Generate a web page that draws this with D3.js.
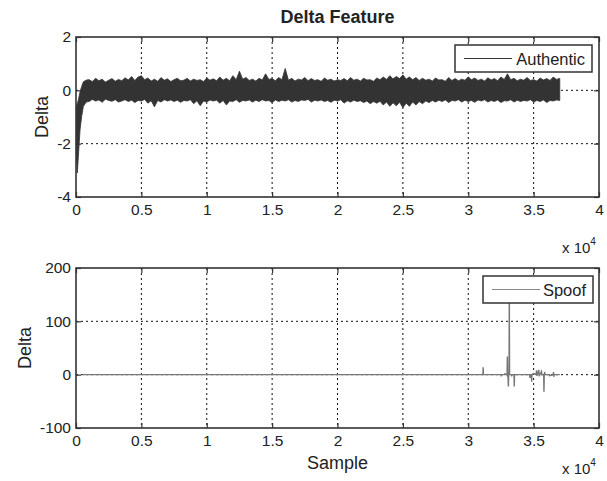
<!DOCTYPE html>
<html>
<head>
<meta charset="utf-8">
<script src="https://cdn.jsdelivr.net/npm/d3@7"></script>
<style>
  body { margin: 0; background: #fff; }
  text { font-family: "Liberation Sans", Arial, Helvetica, sans-serif; fill: #222; }
</style>
</head>
<body>
<script>
// ---- data (sample index in units of 1e4) ----
// authentic signal is very dense noise, so it is kept as an upper/lower envelope
const authX = [0.002, 0.01, 0.018, 0.031, 0.043, 0.056, 0.07, 0.082,
  0.100, 0.125, 0.150, 0.175, 0.200, 0.225, 0.250, 0.275, 0.300, 0.325,
  0.350, 0.375, 0.400, 0.425, 0.450, 0.475, 0.500, 0.525, 0.550, 0.575,
  0.600, 0.625, 0.650, 0.675, 0.700, 0.725, 0.750, 0.775, 0.800, 0.825,
  0.850, 0.875, 0.900, 0.925, 0.950, 0.975, 1.000, 1.025, 1.050, 1.075,
  1.100, 1.125, 1.150, 1.175, 1.200, 1.225, 1.250, 1.275, 1.300, 1.325,
  1.350, 1.375, 1.400, 1.425, 1.450, 1.475, 1.500, 1.525, 1.550, 1.575,
  1.600, 1.625, 1.650, 1.675, 1.700, 1.725, 1.750, 1.775, 1.800, 1.825,
  1.850, 1.875, 1.900, 1.925, 1.950, 1.975, 2.000, 2.025, 2.050, 2.075,
  2.100, 2.125, 2.150, 2.175, 2.200, 2.225, 2.250, 2.275, 2.300, 2.325,
  2.350, 2.375, 2.400, 2.425, 2.450, 2.475, 2.500, 2.525, 2.550, 2.575,
  2.600, 2.625, 2.650, 2.675, 2.700, 2.725, 2.750, 2.775, 2.800, 2.825,
  2.850, 2.875, 2.900, 2.925, 2.950, 2.975, 3.000, 3.025, 3.050, 3.075,
  3.100, 3.125, 3.150, 3.175, 3.200, 3.225, 3.250, 3.275, 3.300, 3.325,
  3.350, 3.375, 3.400, 3.425, 3.450, 3.475, 3.500, 3.525, 3.550, 3.575,
  3.600, 3.625, 3.650, 3.675, 3.700];
const authUpper = [-0.6, -0.5, -0.36, -0.05, 0.14, 0.32, 0.36, 0.39,
  0.40, 0.33, 0.45, 0.36, 0.42, 0.31, 0.38, 0.44, 0.34, 0.41,
  0.36, 0.47, 0.39, 0.52, 0.37, 0.50, 0.55, 0.40, 0.46, 0.35,
  0.42, 0.34, 0.48, 0.38, 0.43, 0.33, 0.40, 0.45, 0.36, 0.38,
  0.45, 0.35, 0.42, 0.37, 0.40, 0.33, 0.46, 0.38, 0.43, 0.36,
  0.50, 0.38, 0.45, 0.36, 0.55, 0.40, 0.72, 0.42, 0.48, 0.37,
  0.42, 0.35, 0.45, 0.39, 0.62, 0.41, 0.44, 0.36, 0.48, 0.40,
  0.82, 0.38, 0.45, 0.35, 0.42, 0.39, 0.48, 0.36, 0.44, 0.37,
  0.40, 0.34, 0.46, 0.38, 0.42, 0.35, 0.40, 0.37, 0.44, 0.36,
  0.48, 0.38, 0.42, 0.35, 0.45, 0.39, 0.40, 0.34, 0.46, 0.40,
  0.50, 0.41, 0.55, 0.43, 0.52, 0.44, 0.58, 0.42, 0.50, 0.40,
  0.48, 0.37, 0.45, 0.38, 0.42, 0.35, 0.46, 0.39, 0.40, 0.34,
  0.48, 0.37, 0.44, 0.36, 0.42, 0.38, 0.50, 0.40, 0.46, 0.37,
  0.42, 0.35, 0.47, 0.39, 0.44, 0.36, 0.50, 0.41, 0.62, 0.40,
  0.45, 0.36, 0.42, 0.38, 0.48, 0.37, 0.40, 0.35, 0.46, 0.39,
  0.44, 0.37, 0.50, 0.41, 0.45];
const authLower = [-2.2, -3.1, -2.49, -1.48, -0.99, -0.61, -0.5, -0.43,
  -0.42, -0.34, -0.40, -0.36, -0.45, -0.33, -0.38, -0.41, -0.35, -0.44,
  -0.40, -0.35, -0.42, -0.37, -0.46, -0.38, -0.40, -0.34, -0.48, -0.39,
  -0.62, -0.38, -0.44, -0.35, -0.40, -0.36, -0.42, -0.37, -0.45, -0.38,
  -0.40, -0.35, -0.50, -0.39, -0.58, -0.40, -0.44, -0.36, -0.40, -0.37,
  -0.48, -0.38, -0.55, -0.40, -0.42, -0.35, -0.45, -0.38, -0.40, -0.36,
  -0.44, -0.37, -0.42, -0.35, -0.40, -0.38, -0.46, -0.36, -0.42, -0.37,
  -0.40, -0.35, -0.44, -0.38, -0.42, -0.36, -0.38, -0.34, -0.44, -0.37,
  -0.40, -0.36, -0.42, -0.38, -0.45, -0.37, -0.40, -0.35, -0.48, -0.39,
  -0.44, -0.37, -0.42, -0.39, -0.46, -0.40, -0.50, -0.42, -0.48, -0.41,
  -0.55, -0.44, -0.60, -0.47, -0.58, -0.45, -0.65, -0.48, -0.60, -0.44,
  -0.55, -0.42, -0.50, -0.40, -0.46, -0.38, -0.44, -0.37, -0.42, -0.36,
  -0.46, -0.38, -0.40, -0.35, -0.44, -0.37, -0.42, -0.38, -0.45, -0.36,
  -0.40, -0.35, -0.44, -0.38, -0.42, -0.36, -0.46, -0.39, -0.40, -0.35,
  -0.44, -0.37, -0.42, -0.38, -0.40, -0.35, -0.44, -0.38, -0.42, -0.36,
  -0.46, -0.38, -0.40, -0.36, -0.38];

// spoof signal: flat near zero, thin spikes after 3.1e4
const spoofX = [0.05, 3.10, 3.112, 3.114, 3.116, 3.25, 3.252, 3.254, 3.28, 3.282, 3.284,
  3.297, 3.299, 3.301, 3.303, 3.307, 3.309, 3.312, 3.314, 3.316, 3.33, 3.332, 3.334,
  3.35, 3.352, 3.354, 3.47, 3.472, 3.474, 3.483, 3.485, 3.487, 3.50, 3.52, 3.522, 3.524,
  3.54, 3.542, 3.56, 3.562, 3.577, 3.579, 3.581, 3.585, 3.587, 3.62, 3.622, 3.65, 3.652,
  3.654, 3.656, 3.70];
const spoofY = [0, 0, 0, 14, 0, 0, -3, 0, 0, 3, 0,
  0, 34, -4, 4, -22, 0, 0, 160, 0, 0, -3, 0,
  0, -22, 0, 0, -6, 0, 0, -13, 0, 2, 0, 8, -2,
  9, -3, 6, 0, 0, -32, 0, 5, 0, 0, -2, 0, 5,
  -4, 0, 0];

const xTicks = [0, 0.5, 1, 1.5, 2, 2.5, 3, 3.5, 4];
const topYTicks = [-4, -2, 0, 2];
const botYTicks = [-100, 0, 100, 200];

const W = 607, H = 481;
const left = 76, right = 599;

let svg = d3.select('body').append('svg')
  .attr('width', W)
  .attr('height', H)
  .style('background', '#fff');

let x = d3.scaleLinear().domain([0, 4]).range([left, right]);

// dotted grid + clip rect for one subplot
function drawGrid(yScale, yTicks, top, bottom, id) {
  let g = svg.append('g');

  g.selectAll('.vgrid')
    .data(xTicks.slice(1, -1))
    .enter().append('line')
      .attr('x1', d => x(d)).attr('x2', d => x(d))
      .attr('y1', top).attr('y2', bottom)
      .attr('stroke', '#111')
      .attr('stroke-width', 1)
      .attr('stroke-dasharray', '2,3');
  g.selectAll('.hgrid')
    .data(yTicks.slice(1, -1))
    .enter().append('line')
      .attr('x1', left).attr('x2', right)
      .attr('y1', d => yScale(d)).attr('y2', d => yScale(d))
      .attr('stroke', '#111')
      .attr('stroke-width', 1)
      .attr('stroke-dasharray', '2,3');

  svg.append('clipPath').attr('id', id)
    .append('rect')
      .attr('x', left).attr('y', top)
      .attr('width', right - left).attr('height', bottom - top);
}

// box, inward ticks on all four sides, tick labels
function drawFrame(yScale, yTicks, top, bottom) {
  let g = svg.append('g');
  let fmt = d => String(d);

  g.append('g')
    .attr('transform', `translate(0, ${bottom})`)
    .call(d3.axisBottom(x).tickValues(xTicks).tickSize(-5).tickPadding(7).tickFormat(fmt));
  g.append('g')
    .attr('transform', `translate(0, ${top})`)
    .call(d3.axisTop(x).tickValues(xTicks).tickSize(-5).tickFormat(''));
  g.append('g')
    .attr('transform', `translate(${left}, 0)`)
    .call(d3.axisLeft(yScale).tickValues(yTicks).tickSize(-5).tickPadding(5).tickFormat(fmt));
  g.append('g')
    .attr('transform', `translate(${right}, 0)`)
    .call(d3.axisRight(yScale).tickValues(yTicks).tickSize(-5).tickFormat(''));

  g.selectAll('g')
    .style('font-size', '15.5px')
    .style('font-family', '"Liberation Sans", Arial, sans-serif');
  g.selectAll('.domain').remove();
  g.selectAll('.tick line').attr('stroke', '#333').attr('stroke-width', 1.2);
  g.selectAll('.tick text').attr('fill', '#222');

  g.append('rect')
    .attr('x', left).attr('y', top)
    .attr('width', right - left).attr('height', bottom - top)
    .attr('fill', 'none')
    .attr('stroke', '#333')
    .attr('stroke-width', 1.6);
}

function legend(x0, y0, w, h, label, color) {
  svg.append('rect')
    .attr('x', x0).attr('y', y0)
    .attr('width', w).attr('height', h)
    .attr('fill', '#fff')
    .attr('stroke', '#333')
    .attr('stroke-width', 1.5);
  svg.append('line')
    .attr('x1', x0 + 9).attr('x2', x0 + 57)
    .attr('y1', y0 + h / 2).attr('y2', y0 + h / 2)
    .attr('stroke', color)
    .attr('stroke-width', 1.2);
  svg.append('text')
    .attr('x', x0 + w - 7)
    .attr('y', y0 + h / 2 + 6)
    .attr('text-anchor', 'end')
    .style('font-size', '16.5px')
    .text(label);
}

function expLabel(x0, y0) {
  let t = svg.append('text')
    .attr('x', x0).attr('y', y0)
    .style('font-size', '15px');
  t.append('tspan').text('x 10');
  t.append('tspan').attr('dy', -8).style('font-size', '10px').text('4');
}

// ---- top subplot ----
let yTop = d3.scaleLinear().domain([-4, 2]).range([197, 37]);
drawGrid(yTop, topYTicks, 37, 197, 'clipTop');

let authRows = authX.map((d, i) => ({ x: d, hi: authUpper[i], lo: authLower[i] }));
svg.append('path')
  .datum(authRows)
  .attr('clip-path', 'url(#clipTop)')
  .attr('fill', '#333')
  .attr('stroke', '#333')
  .attr('stroke-width', 0.8)
  .attr('d', d3.area()
    .x(d => x(d.x))
    .y0(d => yTop(d.lo))
    .y1(d => yTop(d.hi)));

drawFrame(yTop, topYTicks, 37, 197);
legend(455, 45, 137, 27, 'Authentic', '#333');
expLabel(562, 253);

svg.append('text')
  .attr('x', (left + right) / 2)
  .attr('y', 23)
  .attr('text-anchor', 'middle')
  .style('font-size', '18px')
  .style('font-weight', 'bold')
  .text('Delta Feature');

svg.append('text')
  .attr('transform', `translate(48, 117) rotate(-90)`)
  .attr('text-anchor', 'middle')
  .style('font-size', '18px')
  .text('Delta');

// ---- bottom subplot ----
let yBot = d3.scaleLinear().domain([-100, 200]).range([428, 268]);
drawGrid(yBot, botYTicks, 268, 428, 'clipBot');

let spoofRows = spoofX.map((d, i) => ({ x: d, y: spoofY[i] }));
svg.append('path')
  .datum(spoofRows)
  .attr('clip-path', 'url(#clipBot)')
  .attr('fill', 'none')
  .attr('stroke', '#777')
  .attr('stroke-width', 1.4)
  .attr('d', d3.line().x(d => x(d.x)).y(d => yBot(d.y)));

drawFrame(yBot, botYTicks, 268, 428);
legend(483, 276, 110, 27, 'Spoof', '#888');
expLabel(562, 474);

svg.append('text')
  .attr('x', (left + right) / 2)
  .attr('y', 469)
  .attr('text-anchor', 'middle')
  .style('font-size', '18px')
  .text('Sample');

svg.append('text')
  .attr('transform', `translate(31, 348) rotate(-90)`)
  .attr('text-anchor', 'middle')
  .style('font-size', '18px')
  .text('Delta');
</script>
</body>
</html>
